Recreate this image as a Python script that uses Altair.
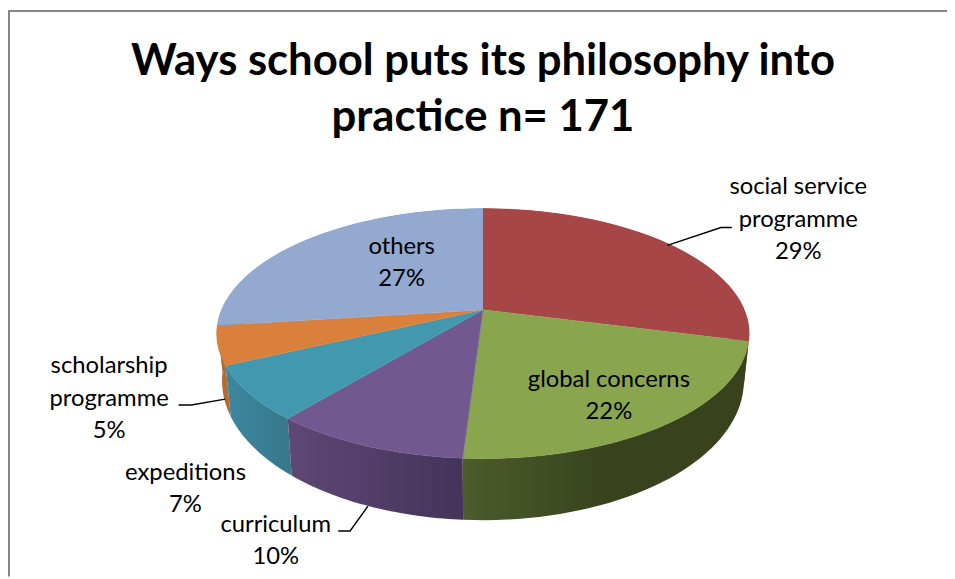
import math
import altair as alt
import pandas as pd

# --- values
categories = ["social service programme", "global concerns", "curriculum", "expeditions", "scholarship programme", "others"]
shares = [29, 22, 10, 7, 5, 27]
top_colors = ["#A64646", "#89A54E", "#71588F", "#4198AF", "#D9813C", "#93A9CF"]
wall_stops = [
    ["#6E2E2D", "#6E2E2D"],
    ["#4C5C2B", "#38431E", "#38431E"],
    ["#5E4874", "#44335A"],
    ["#3C87A0", "#37778A"],
    ["#B56A2E", "#B56A2E"],
    ["#62718D", "#62718D"],
]
title_lines = ["Ways school puts its philosophy into", "practice n= 171"]
label_lines = ["social service", "programme", "29%", "global concerns", "22%", "curriculum", "10%",
               "expeditions", "7%", "scholarship", "programme", "5%", "others", "27%"]

# --- layout of the tilted pie (page pixels, as the scales below map them)
CX, CY, RX, RY, P = 487, 310, 263.6, 121.5, 0.19
WALL_DY, WALL_SX, WALL_SY = 45, 0.98, 1.114
W, H = 947, 571

label_x = [805, 805, 805, 614, 614, 278, 278, 187, 187, 110, 110, 110, 405, 405]
label_y = [186, 219, 252, 381, 413, 527, 559, 475, 507, 367, 400, 432, 247, 279]
title_x = [487, 487]
title_y = [60, 117]
leaders = [
    [(673, 245), (727, 227), (738, 227)],
    [(180, 406), (193, 406), (227, 400)],
    [(371, 508), (353, 533), (341, 533)],
]
frame = [[(9, 579), (9, 8.5), (955, 8.5)]]


def top_pt(pct):
    t = 2 * math.pi * pct / 100
    u, v = math.sin(t), math.cos(t)
    w = 1 + P * v
    return CX + RX * u / w, CY - RY * v / w


def wall_pt(pct):
    x, y = top_pt(pct)
    return CX + WALL_SX * (x - CX), CY + WALL_DY + WALL_SY * (y - CY)


x_scale = alt.Scale(domain=[8, 955])
y_scale = alt.Scale(domain=[579, 8])
X = alt.X("x:Q", scale=x_scale, axis=None)
Y = alt.Y("y:Q", scale=y_scale, axis=None)


def polygon(points, fill):
    df = pd.DataFrame({"x": [p[0] for p in points], "y": [p[1] for p in points], "i": range(len(points))})
    return alt.Chart(df).mark_line(fill=fill, stroke=fill if isinstance(fill, str) else "#00000000",
                                   strokeWidth=0.5, clip=False).encode(x=X, y=Y, order=alt.Order("i:Q"))


def gradient(stops):
    n = len(stops) - 1
    return alt.Gradient(gradient="linear", x1=0, x2=1, y1=0, y2=0,
                        stops=[alt.GradientStop(offset=k / n, color=c) for k, c in enumerate(stops)])


layers = []
edges = [0]
for s in shares:
    edges.append(edges[-1] + s)
steps = [[edges[k] + (edges[k + 1] - edges[k]) * j / 40 for j in range(41)] for k in range(len(shares))]

# side walls first, the top faces over them
for k in [5, 0, 4, 3, 2, 1]:
    pts = [top_pt(p) for p in steps[k]] + [wall_pt(p) for p in reversed(steps[k])]
    layers.append(polygon(pts, gradient(wall_stops[k])))
for k in range(len(shares)):
    pts = [(CX, CY)] + [top_pt(p) for p in steps[k]]
    layers.append(polygon(pts, top_colors[k]))

for path in leaders + frame:
    df = pd.DataFrame({"x": [p[0] for p in path], "y": [p[1] for p in path], "i": range(len(path))})
    is_frame = path in frame
    layers.append(alt.Chart(df).mark_line(color="#868686" if is_frame else "#000000",
                                          strokeWidth=2 if is_frame else 1.4).encode(
        x=X, y=Y, order=alt.Order("i:Q")))

labels = pd.DataFrame({"x": label_x, "y": label_y, "t": label_lines})
layers.append(alt.Chart(labels).mark_text(font="Lato", fontSize=24, color="#000000", align="center",
                                          baseline="middle").encode(x=X, y=Y, text="t:N"))
titles = pd.DataFrame({"x": title_x, "y": title_y, "t": title_lines})
layers.append(alt.Chart(titles).mark_text(font="Lato", fontSize=44, fontWeight="bold", color="#000000",
                                          align="center", baseline="middle").encode(x=X, y=Y, text="t:N"))

chart = alt.layer(*layers).properties(
    width=W, height=H, padding=0, autosize=alt.AutoSizeParams(type="none"),
    background="#FFFFFF",
).configure_view(stroke=None)

chart.save("out.html", embed_options={"renderer": "svg", "actions": False})
